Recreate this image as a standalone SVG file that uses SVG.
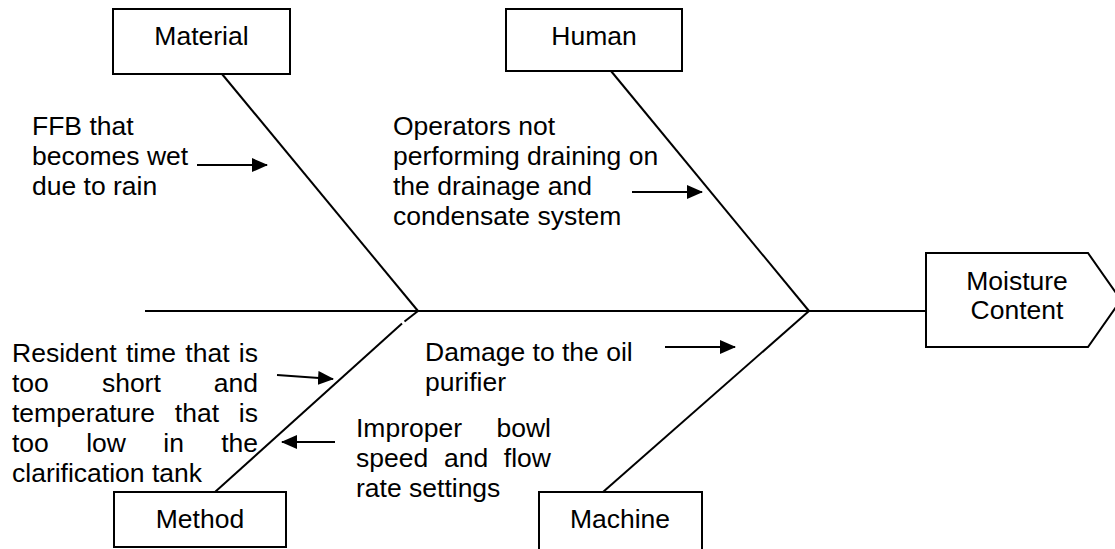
<svg xmlns="http://www.w3.org/2000/svg" width="1115" height="549" viewBox="0 0 1115 549">
  <style>
    .box { fill: #ffffff; stroke: #000000; stroke-width: 2; }
    .bone { stroke: #000000; stroke-width: 2; fill: none; }
    .arr { stroke: #000000; stroke-width: 2; fill: none; marker-end: url(#ah); }
    text { font-family: "Liberation Sans", Arial, sans-serif; font-size: 26.5px; fill: #000000; }
    .c { text-anchor: middle; }
    .e { text-anchor: end; }
  </style>
  <defs>
    <marker id="ah" markerUnits="userSpaceOnUse" markerWidth="16" markerHeight="14" refX="15" refY="7" orient="auto">
      <path d="M0,0 L16,7 L0,14 z" fill="#000000"/>
    </marker>
  </defs>
  <rect width="1115" height="549" fill="#ffffff"/>

  <g id="connectors">
    <line class="bone" x1="145" y1="311" x2="926" y2="311"/>
    <line class="bone" x1="222" y1="74" x2="418" y2="311"/>
    <line class="bone" x1="611" y1="71" x2="809" y2="311"/>
    <line class="bone" x1="215" y1="492" x2="402" y2="323.5"/>
    <line class="bone" x1="404.5" y1="321.5" x2="418" y2="311"/>
    <line class="bone" x1="603" y1="492" x2="809" y2="311"/>
    <line class="arr" x1="197" y1="165" x2="267" y2="165"/>
    <line class="arr" x1="632" y1="192" x2="702" y2="192"/>
    <line class="arr" x1="277" y1="375" x2="333" y2="379"/>
    <line class="arr" x1="335" y1="442" x2="282" y2="442"/>
    <line class="arr" x1="665" y1="347" x2="735" y2="347"/>
  </g>

  <g id="material">
    <rect class="box" x="113" y="9" width="177" height="65"/>
    <text class="c" x="201.5" y="45">Material</text>
  </g>
  <g id="human">
    <rect class="box" x="506" y="9" width="176" height="62"/>
    <text class="c" x="594" y="45">Human</text>
  </g>
  <g id="method">
    <rect class="box" x="114" y="492" width="172" height="55"/>
    <text class="c" x="200" y="528">Method</text>
  </g>
  <g id="machine">
    <rect class="box" x="539" y="492" width="163" height="70"/>
    <text class="c" x="620" y="528">Machine</text>
  </g>
  <g id="moisture-content">
    <polygon class="box" points="926,253 1088,253 1121,300 1088,347 926,347"/>
    <text class="c" x="1017" y="290">Moisture</text>
    <text class="c" x="1017" y="319">Content</text>
  </g>

  <g id="cause-ffb">
    <text x="32" y="135">FFB that</text>
    <text x="32" y="165">becomes wet</text>
    <text x="32" y="195">due to rain</text>
  </g>
  <g id="cause-operators">
    <text x="393" y="135">Operators not</text>
    <text x="393" y="165">performing draining on</text>
    <text x="393" y="195">the drainage and</text>
    <text x="393" y="225">condensate system</text>
  </g>
  <g id="cause-resident">
    <text x="12" y="362">Resident</text>
    <text x="125.9" y="362">time</text>
    <text x="185.3" y="362">that</text>
    <text class="e" x="258" y="362">is</text>
    <text x="12" y="392">too</text>
    <text x="101.9" y="392">short</text>
    <text class="e" x="258" y="392">and</text>
    <text x="12" y="422">temperature</text>
    <text x="174.8" y="422">that</text>
    <text class="e" x="258" y="422">is</text>
    <text x="12" y="452">too</text>
    <text x="86.2" y="452">low</text>
    <text x="163.3" y="452">in</text>
    <text class="e" x="258" y="452">the</text>
    <text x="12" y="482">clarification tank</text>
  </g>
  <g id="cause-damage">
    <text x="425" y="361">Damage to the oil</text>
    <text x="425" y="391">purifier</text>
  </g>
  <g id="cause-improper">
    <text x="356" y="437">Improper</text>
    <text class="e" x="551" y="437">bowl</text>
    <text x="356" y="467">speed</text>
    <text x="444" y="467">and</text>
    <text class="e" x="551" y="467">flow</text>
    <text x="356" y="497">rate settings</text>
  </g>
</svg>
